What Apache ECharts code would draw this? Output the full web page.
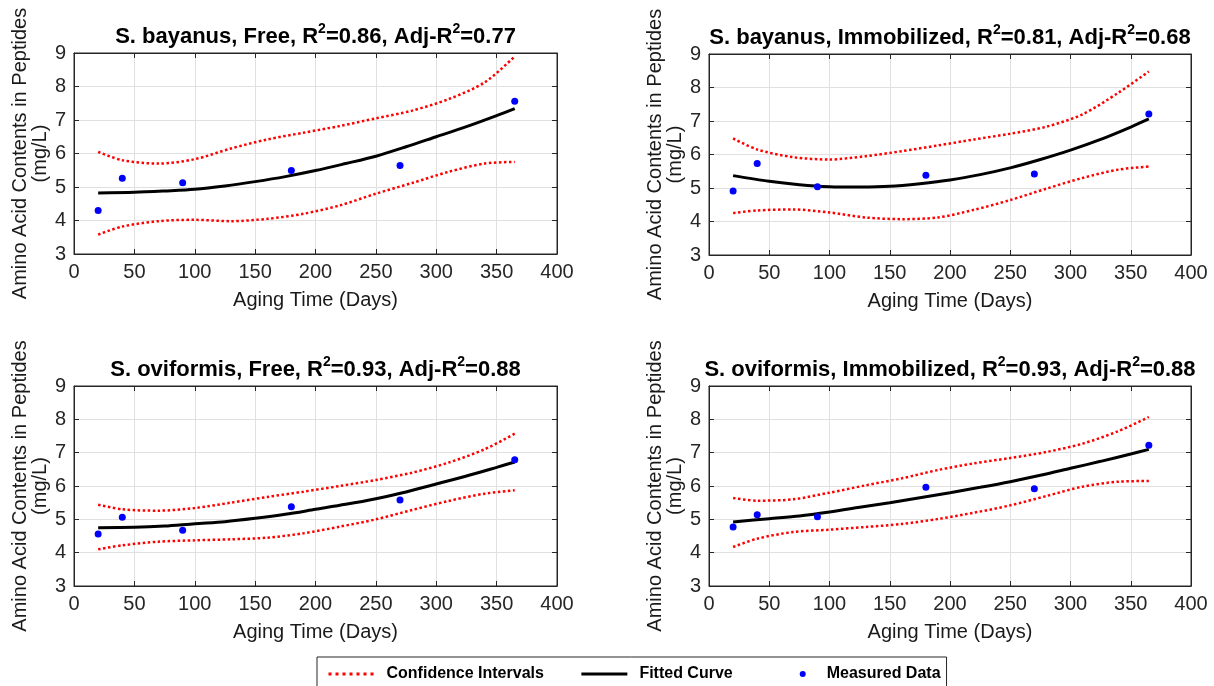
<!DOCTYPE html>
<html>
<head>
<meta charset="utf-8">
<script src="https://cdn.jsdelivr.net/npm/echarts@6/dist/echarts.min.js"></script>
<style>html,body{margin:0;padding:0;background:#fff}#c{width:1214px;height:686px}</style>
</head>
<body>
<div id="c"></div>
<script>
// ---------------- data ----------------
const measuredX = [20, 40, 90, 180, 270, 365];
const curveX = [20, 50, 75, 100, 125, 150, 175, 200, 225, 250, 275, 300, 325, 350, 365];
const ciX = [20, 40, 70, 100, 130, 160, 190, 220, 250, 280, 310, 340, 365];

const titleSpecies = ['S. bayanus', 'S. bayanus', 'S. oviformis', 'S. oviformis'];
const titleMode = ['Free', 'Immobilized', 'Free', 'Immobilized'];
const r2Values = ['0.86', '0.81', '0.93', '0.93'];
const adjR2Values = ['0.77', '0.68', '0.88', '0.88'];

const measured1 = [4.30, 5.26, 5.13, 5.49, 5.64, 7.56];
const fit1 = [4.82, 4.84, 4.88, 4.93, 5.03, 5.16, 5.31, 5.49, 5.70, 5.92, 6.20, 6.50, 6.80, 7.13, 7.34];
const upper1 = [6.05, 5.80, 5.70, 5.83, 6.15, 6.42, 6.62, 6.82, 7.05, 7.28, 7.62, 8.12, 8.90];
const lower1 = [3.58, 3.82, 3.98, 4.02, 3.98, 4.05, 4.20, 4.45, 4.80, 5.12, 5.45, 5.70, 5.75];

const measured2 = [4.91, 5.73, 5.04, 5.38, 5.42, 7.21];
const fit2 = [5.37, 5.20, 5.10, 5.04, 5.03, 5.05, 5.13, 5.24, 5.40, 5.60, 5.85, 6.13, 6.45, 6.82, 7.06];
const upper2 = [6.48, 6.15, 5.92, 5.85, 5.95, 6.10, 6.27, 6.45, 6.62, 6.83, 7.20, 7.85, 8.48];
const lower2 = [4.25, 4.33, 4.36, 4.27, 4.12, 4.07, 4.12, 4.35, 4.64, 4.98, 5.30, 5.55, 5.64];

const measured3 = [4.56, 5.06, 4.67, 5.38, 5.58, 6.79];
const fit3 = [4.75, 4.76, 4.80, 4.87, 4.93, 5.03, 5.15, 5.30, 5.45, 5.62, 5.82, 6.06, 6.30, 6.56, 6.72];
const upper3 = [5.44, 5.30, 5.26, 5.34, 5.50, 5.67, 5.83, 6.00, 6.18, 6.40, 6.70, 7.10, 7.57];
const lower3 = [4.10, 4.22, 4.33, 4.37, 4.40, 4.45, 4.58, 4.78, 5.00, 5.28, 5.55, 5.77, 5.87];

const measured4 = [4.77, 5.14, 5.08, 5.96, 5.92, 7.22];
const fit4 = [4.92, 5.02, 5.10, 5.22, 5.36, 5.50, 5.65, 5.80, 5.96, 6.13, 6.32, 6.53, 6.74, 6.96, 7.10];
const upper4 = [5.64, 5.56, 5.60, 5.80, 6.02, 6.23, 6.48, 6.68, 6.84, 7.02, 7.27, 7.65, 8.07];
const lower4 = [4.17, 4.42, 4.62, 4.69, 4.77, 4.86, 5.01, 5.20, 5.42, 5.70, 5.98, 6.13, 6.15];

const xAxisName = 'Aging Time (Days)';
const yAxisName = 'Amino Acid Contents in Peptides\n(mg/L)';
const legendNames = ['Confidence Intervals', 'Fitted Curve', 'Measured Data'];

// ---------------- layout / style ----------------
const FONT = 'Liberation Sans, Arial, Helvetica, sans-serif';
const AX = '#262626';
const gridBoxes = [
  {left: 74, top: 53, width: 483, height: 201},
  {left: 709, top: 54, width: 482, height: 201},
  {left: 74, top: 386, width: 483, height: 200},
  {left: 709, top: 386, width: 482, height: 200}
];
const panels = [
  {m: measured1, f: fit1, u: upper1, l: lower1},
  {m: measured2, f: fit2, u: upper2, l: lower2},
  {m: measured3, f: fit3, u: upper3, l: lower3},
  {m: measured4, f: fit4, u: upper4, l: lower4}
];
const zip = (xs, ys) => xs.map((x, i) => [x, ys[i]]);

const grid = [], xAxis = [], yAxis = [], series = [], graphic = [];
gridBoxes.forEach((g, i) => {
  grid.push({left: g.left, top: g.top, width: g.width, height: g.height,
    show: true, borderColor: AX, borderWidth: 1, backgroundColor: 'transparent'});
  const tick = {show: true, inside: true, length: 5, lineStyle: {color: AX, width: 1}};
  const line = {show: true, onZero: false, lineStyle: {color: AX, width: 1}};
  xAxis.push({
    gridIndex: i, type: 'value', min: 0, max: 400, interval: 50, position: 'bottom',
    name: xAxisName, nameLocation: 'middle', nameGap: 36,
    nameTextStyle: {fontSize: 20, color: '#1a1a1a', fontFamily: FONT},
    axisLine: line, axisTick: tick,
    axisLabel: {fontSize: 20, color: AX, margin: 8, fontFamily: FONT},
    splitLine: {show: true, lineStyle: {color: '#e0e0e0', width: 1}}
  });
  xAxis.push({
    gridIndex: i, type: 'value', min: 0, max: 400, interval: 50, position: 'top',
    axisLine: line, axisTick: tick, axisLabel: {show: false}, splitLine: {show: false}
  });
  yAxis.push({
    gridIndex: i, type: 'value', min: 3, max: 9, interval: 1, position: 'left',
    name: yAxisName, nameLocation: 'middle', nameGap: 24,
    nameTextStyle: {fontSize: 20, lineHeight: 20, color: '#1a1a1a', fontFamily: FONT},
    axisLine: line, axisTick: tick,
    axisLabel: {fontSize: 20, color: AX, margin: 8, fontFamily: FONT},
    splitLine: {show: true, lineStyle: {color: '#e0e0e0', width: 1}}
  });
  yAxis.push({
    gridIndex: i, type: 'value', min: 3, max: 9, interval: 1, position: 'right',
    axisLine: line, axisTick: tick, axisLabel: {show: false}, splitLine: {show: false}
  });
  const p = panels[i];
  const common = {xAxisIndex: 2 * i, yAxisIndex: 2 * i};
  const ciStyle = {color: '#ff0000', width: 2.5, type: 'dotted'};
  series.push(Object.assign({type: 'line', name: legendNames[0], data: zip(ciX, p.u),
    symbol: 'none', smooth: 0.3, lineStyle: ciStyle, itemStyle: {color: '#ff0000'}, z: 3}, common));
  series.push(Object.assign({type: 'line', name: legendNames[0], data: zip(ciX, p.l),
    symbol: 'none', smooth: 0.3, lineStyle: ciStyle, itemStyle: {color: '#ff0000'}, z: 3}, common));
  series.push(Object.assign({type: 'line', name: legendNames[1], data: zip(curveX, p.f),
    symbol: 'none', smooth: 0.3, lineStyle: {color: '#000', width: 3}, itemStyle: {color: '#000'}, z: 4}, common));
  series.push(Object.assign({type: 'scatter', name: legendNames[2], data: zip(measuredX, p.m),
    symbol: 'circle', symbolSize: 7, itemStyle: {color: '#0000ff', opacity: 1}, z: 5}, common));

  graphic.push({
    type: 'text', x: g.left + g.width / 2, y: g.top - 16, z: 10,
    style: {
      text: titleSpecies[i] + ', ' + titleMode[i] + ', R{s|2}=' + r2Values[i] + ', Adj-R{s|2}=' + adjR2Values[i],
      align: 'center', verticalAlign: 'middle',
      font: 'bold 22px ' + FONT, fill: '#000', lineHeight: 30,
      rich: {s: {fontSize: 14, fontWeight: 'bold', fontFamily: FONT, lineHeight: 15, verticalAlign: 'top', fill: '#000'}}
    }
  });
});

const option = {
  animation: false,
  backgroundColor: '#fff',
  grid, xAxis, yAxis, series, graphic,
  legend: {
    left: 317, top: 657, orient: 'horizontal',
    borderColor: AX, borderWidth: 1, borderRadius: 0, backgroundColor: '#fff',
    padding: [9, 6, 9, 10], itemWidth: 46, itemHeight: 14, itemGap: 36,
    textStyle: {fontSize: 16, fontWeight: 'bold', color: '#000', fontFamily: FONT, padding: [0, 0, 0, 7]},
    data: [
      {name: legendNames[0], lineStyle: {type: [3, 4], width: 3, color: '#ff0000'}, itemStyle: {opacity: 0}},
      {name: legendNames[1], lineStyle: {width: 3, color: '#000'}, itemStyle: {opacity: 0}},
      {name: legendNames[2], icon: 'path://M0,0M46,14M31,7a3,3 0 1,0 6,0a3,3 0 1,0 -6,0z', itemStyle: {color: '#0000ff', opacity: 1}}
    ]
  }
};

const chart = echarts.init(document.getElementById('c'), null, {renderer: 'canvas'});
chart.setOption(option);
</script>
</body>
</html>
